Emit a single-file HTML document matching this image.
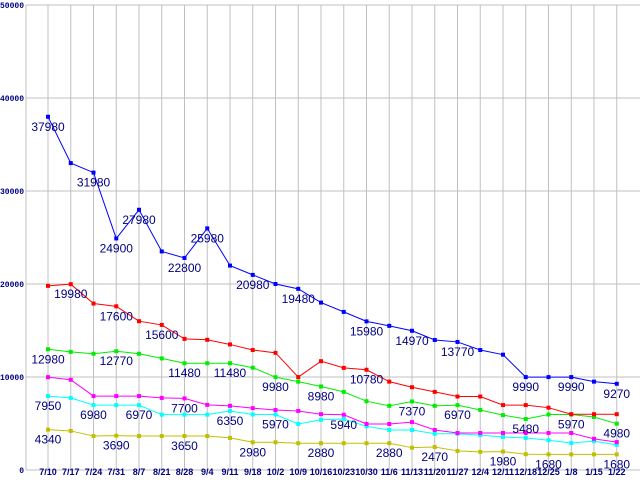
<!DOCTYPE html>
<html><head><meta charset="utf-8"><style>
html,body{margin:0;padding:0;background:#fff;width:640px;height:480px;overflow:hidden}
svg{display:block}
</style></head><body>
<svg id="chart" width="640" height="480" xmlns="http://www.w3.org/2000/svg"></svg>
<script>
const categories=["7/10","7/17","7/24","7/31","8/7","8/21","8/28","9/4","9/11","9/18","10/2","10/9","10/16","10/23","10/30","11/6","11/13","11/20","11/27","12/4","12/11","12/18","12/25","1/8","1/15","1/22"];
const yTicks=[0,10000,20000,30000,40000,50000];
const blueValues=[37980,33000,31980,24900,27980,23500,22800,25980,21980,20980,20000,19480,18000,17000,15980,15500,14970,13980,13770,12900,12400,9990,9990,9990,9500,9270];
const redValues=[19800,19980,17900,17600,16000,15600,14100,14000,13500,12900,12600,9990,11700,10980,10780,9500,8900,8400,7900,7900,6980,6980,6700,6000,6000,6000];
const greenValues=[12980,12700,12500,12770,12500,12000,11480,11480,11480,11000,9980,9500,8980,8400,7400,6900,7370,6900,6970,6450,5900,5480,5970,5970,5700,4980];
const magentaValues=[9980,9700,7950,7950,7950,7750,7700,7000,6900,6650,6450,6350,6000,5940,4950,4950,5150,4300,3980,3980,3980,3980,3980,3980,3350,3000];
const cyanValues=[7950,7750,6980,6980,6970,5950,5950,5950,6350,5970,5970,4950,5400,5480,4700,4300,4300,3900,3900,3750,3550,3450,3200,2900,3100,2700];
const oliveValues=[4340,4200,3650,3690,3650,3650,3650,3650,3450,2980,2980,2880,2880,2880,2880,2880,2400,2470,2050,1950,1980,1700,1680,1680,1680,1680];
const blueLabels=[0,2,3,4,6,7,9,11,14,16,18,21,23,25];
const redLabels=[1,3,5,14];
const greenLabels=[0,3,6,8,10,12,16,18,21,23,25];
const magentaLabels=[6,13];
const cyanLabels=[0,2,4,8,10];
const oliveLabels=[0,3,6,9,12,15,17,20,22,25];

const NS="http://www.w3.org/2000/svg";
const svg=document.getElementById('chart');
const X0=48,DX=22.75,Y0=470,YTOP=5,YMAX=50000;
function xs(i){return X0+i*DX;}
function ys(v){return Y0-(v/YMAX)*(Y0-YTOP);}
function mk(tag,attrs){const e=document.createElementNS(NS,tag);for(const k in attrs)e.setAttribute(k,attrs[k]);svg.appendChild(e);return e;}

// grid
yTicks.forEach(t=>{
  const l=mk('line',{x1:26,x2:640,y1:ys(t),y2:ys(t),stroke:'#c0c0c0','stroke-width':1});
  
  
  const tx=mk('text',{x:24,y:ys(t)+3,'text-anchor':'end','font-size':8,'font-weight':'bold',fill:'#000080','font-family':'Liberation Mono, monospace'});
  tx.textContent=String(t);
  
  
});
categories.forEach((c,i)=>{
  const l=mk('line',{x1:xs(i),x2:xs(i),y1:YTOP,y2:Y0,stroke:'#c0c0c0','stroke-width':1});
  
  
  const tx=mk('text',{x:xs(i),y:480-5,'text-anchor':'middle','font-size':9,'font-weight':'bold',fill:'#000080','font-family':'Liberation Sans, sans-serif'});
  tx.textContent=c;
  
  
});
const ax=mk('line',{x1:26,x2:26,y1:YTOP,y2:Y0,stroke:'#c0c0c0','stroke-width':1});



const series=[
 ['olive',oliveValues,oliveLabels,'#c0c000'],
 ['cyan',cyanValues,cyanLabels,'#00ffff'],
 ['magenta',magentaValues,magentaLabels,'#ff00ff'],
 ['green',greenValues,greenLabels,'#00ee00'],
 ['red',redValues,redLabels,'#ff0000'],
 ['blue',blueValues,blueLabels,'#0000ff']
];
series.forEach(([name,vals,labs,col])=>{
  const p=mk('polyline',{points:vals.map((v,i)=>xs(i)+','+ys(v)).join(' '),fill:'none',stroke:col,'stroke-width':1});
  
  
  vals.forEach((v,i)=>{
    const r=mk('rect',{x:xs(i)-2,y:ys(v)-2,width:4,height:4,fill:col});
    
    
  });
});
series.forEach(([name,vals,labs,col])=>{
  labs.forEach(i=>{
    const t=mk('text',{x:xs(i),y:ys(vals[i])+14,'text-anchor':'middle','font-size':12,fill:'#000080','font-family':'Liberation Sans, sans-serif'});
    t.textContent=String(vals[i]);
    
    
  });
});
</script>
</body></html>
